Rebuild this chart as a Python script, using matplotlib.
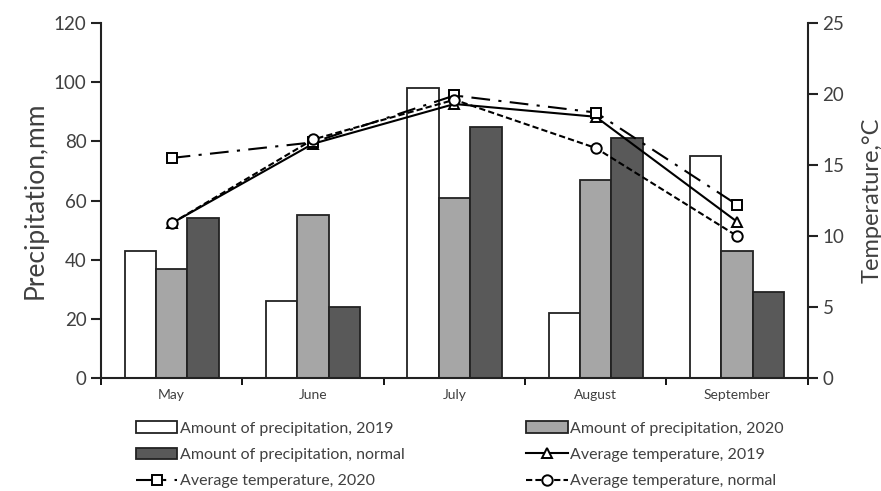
import matplotlib
matplotlib.use("Agg")
import matplotlib.pyplot as plt
import numpy as np

plt.rcParams['font.family'] = ['Lato', 'DejaVu Sans']

months = ["May", "June", "July", "August", "September"]
prec_2019 = [43, 26, 98, 22, 75]
prec_2020 = [37, 55, 61, 67, 43]
prec_normal = [54, 24, 85, 81, 29]
temp_2019 = [10.9, 16.5, 19.3, 18.4, 11.0]
temp_2020 = [15.5, 16.6, 19.9, 18.7, 12.2]
temp_normal = [10.9, 16.8, 19.6, 16.2, 10.0]

txt = '#404040'
fig = plt.figure(figsize=(8.81, 4.91), dpi=100)
ax = fig.add_axes([0.1146, 0.2301, 0.8024, 0.7229])
ax2 = ax.twinx()

x = np.arange(len(months))
w = 0.222
b1 = ax.bar(x - w, prec_2019, w, color='white', edgecolor='#222222', linewidth=1.3,
            label='Amount of precipitation, 2019')
b2 = ax.bar(x, prec_2020, w, color='#a6a6a6', edgecolor='#222222', linewidth=1.3,
            label='Amount of precipitation, 2020')
b3 = ax.bar(x + w, prec_normal, w, color='#595959', edgecolor='#222222', linewidth=1.3,
            label='Amount of precipitation, normal')

ms = 7.5
l1, = ax2.plot(x, temp_2019, '-', color='black', lw=1.5, marker='^', ms=ms,
               mfc='white', mec='black', mew=1.4, label='Average temperature, 2019')
l2, = ax2.plot(x, temp_2020, color='black', lw=1.5, ls=(0, (9, 4, 1.5, 4)), marker='s', ms=ms,
               mfc='white', mec='black', mew=1.4, label='Average temperature, 2020')
l3, = ax2.plot(x, temp_normal, color='black', lw=1.5, ls=(0, (3, 1.5)), marker='o', ms=ms,
               mfc='white', mec='black', mew=1.4, label='Average temperature, normal')

ax.set_xlim(-0.5, 4.5)
ax.set_ylim(0, 120)
ax2.set_ylim(0, 25)
ax.set_yticks(range(0, 121, 20))
ax2.set_yticks(range(0, 26, 5))
ax.set_xticks(np.arange(-0.5, 4.6, 1))
ax.set_xticklabels([])
ax.set_xticks(x, minor=True)
ax.set_xticklabels(months, minor=True, fontsize=10, color=txt)
ax.tick_params(axis='x', which='minor', length=0, pad=8)
ax.tick_params(axis='x', which='major', length=5, width=1.3, direction='out')

for a in (ax, ax2):
    a.spines['top'].set_visible(False)
    for s in ('left', 'right', 'bottom'):
        a.spines[s].set_linewidth(1.5)
        a.spines[s].set_color('#222222')
    a.tick_params(axis='y', length=7, width=1.5, labelsize=13.5, labelcolor=txt, color='#222222')
ax.spines['right'].set_visible(False)
ax2.spines['left'].set_visible(False)
ax2.spines['bottom'].set_visible(False)

ax.set_ylabel('Precipitation,mm', fontsize=19, color=txt, labelpad=4)
ax2.set_ylabel('Temperature,°C', fontsize=17, color=txt, labelpad=12)

handles = [b1, b3, l2, b2, l1, l3]
fig.legend(handles=handles, labels=[h.get_label() for h in handles], ncol=2,
           loc='upper left', bbox_to_anchor=(0.138, 0.171), frameon=False,
           fontsize=11.5, handlelength=2.6, handletextpad=0.15, columnspacing=7.6,
           labelspacing=0.76, labelcolor=txt)

fig.savefig('out.png', dpi=100)
